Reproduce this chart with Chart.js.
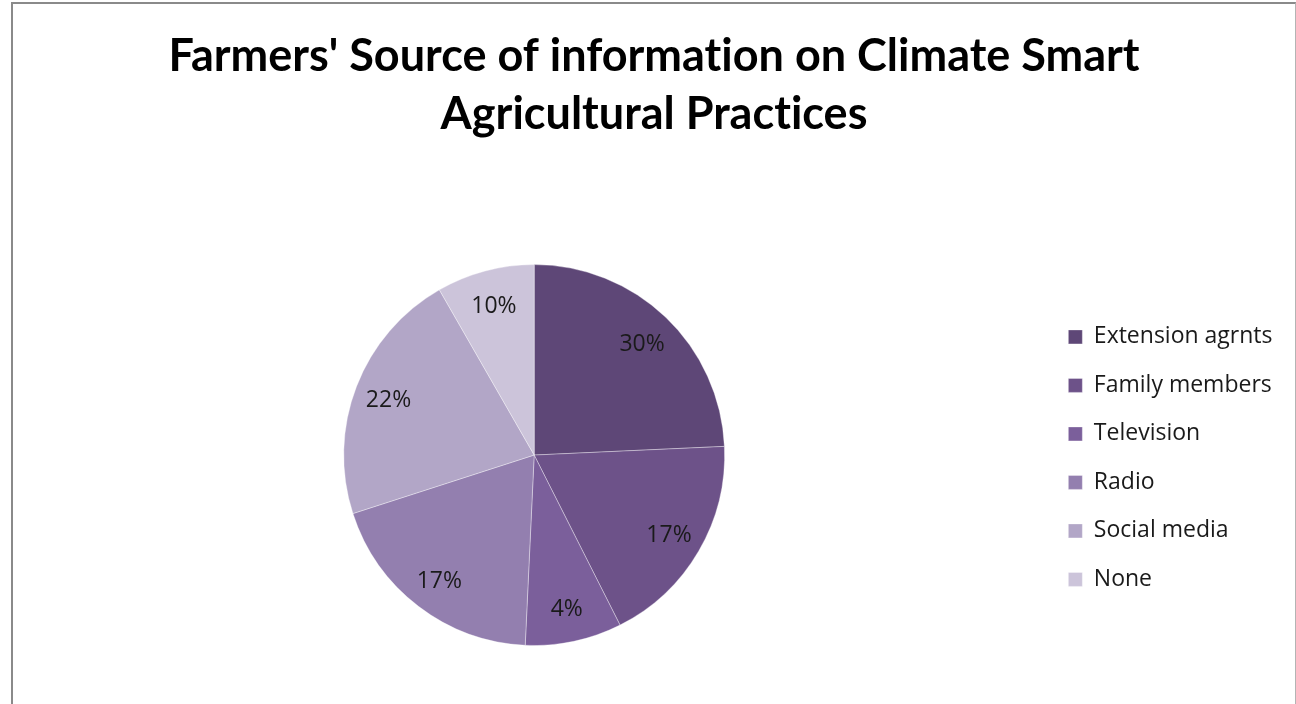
<!DOCTYPE html>
<html>
<head>
<meta charset="utf-8">
<title>Farmers' Source of information</title>
<script src="https://cdn.jsdelivr.net/npm/chart.js"></script>
<style>
    html, body { margin: 0; padding: 0; background: #fff; overflow: hidden; }
    #wrap { position: relative; width: 1296px; height: 704px; }
    #frame {
        position: absolute; left: 11px; top: 2px; width: 1282px; height: 720px;
        border-top: 2px solid #8a8a8a; border-left: 2px solid #8a8a8a; border-right: 1px solid #b4b4b4;
    }
    #chart { position: absolute; left: 0; top: 0; }
</style>
</head>
<body>
<div id="wrap">
    <div id="frame"></div>
    <canvas id="chart" width="1296" height="704"></canvas>
</div>
<script>
const titleLines = ["Farmers' Source of information on Climate Smart", "Agricultural Practices"];
const sources = ['Extension agrnts', 'Family members', 'Television', 'Radio', 'Social media', 'None'];
const sliceShares = [24.3, 18.3, 8.2, 19.3, 21.7, 8.3];
const shareLabels = ['30%', '17%', '4%', '17%', '22%', '10%'];
const sliceColors = ['#5e4777', '#6d5289', '#7b5f9b', '#937faf', '#b2a6c7', '#ccc4da'];

const FONT = "'Open Sans', 'DejaVu Sans', sans-serif";

// Lato's "ti" ligature looks wrong here, so switch ligatures off for all text
const noLigatures = {
    id: 'noLigatures',
    beforeUpdate(chart) { chart.ctx.textRendering = 'optimizeSpeed'; },
    beforeDraw(chart) { chart.ctx.textRendering = 'optimizeSpeed'; }
};

const sliceLabels = {
    id: 'sliceLabels',
    afterDatasetsDraw(chart) {
        const {ctx} = chart;
        const meta = chart.getDatasetMeta(0);
        ctx.save();
        ctx.font = `23px ${FONT}`;
        ctx.fillStyle = '#1a1a1a';
        ctx.textAlign = 'center';
        ctx.textBaseline = 'middle';
        meta.data.forEach((arc, i) => {
            const {x, y, startAngle, endAngle, outerRadius} = arc.getProps(['x', 'y', 'startAngle', 'endAngle', 'outerRadius'], true);
            const mid = (startAngle + endAngle) / 2;
            const r = outerRadius * 0.82;
            ctx.fillText(shareLabels[i], x + Math.cos(mid) * r, y + Math.sin(mid) * r + 2);
        });
        ctx.restore();
    }
};

new Chart(document.getElementById('chart'), {
    type: 'pie',
    data: {
        labels: sources,
        datasets: [{
            data: sliceShares,
            backgroundColor: sliceColors,
            borderColor: 'rgba(255,255,255,0.35)',
            borderWidth: 1,
            hoverOffset: 0
        }]
    },
    options: {
        responsive: false,
        animation: false,
        devicePixelRatio: 1,
        layout: { padding: { left: 25.5, right: 13.5, top: 0, bottom: 58 } },
        plugins: {
            title: {
                display: true,
                text: titleLines,
                color: '#000',
                font: { family: "Lato, 'Open Sans', sans-serif", size: 45, weight: 'bold', lineHeight: 1.29 },
                padding: { top: 27, bottom: 121 }
            },
            legend: {
                position: 'right',
                fullSize: false,
                // empty title only nudges the items down a few px
                title: { display: true, text: '', font: { size: 1 }, padding: { top: 5, bottom: 0 } },
                labels: {
                    boxWidth: 14,
                    boxHeight: 14,
                    padding: 25.5,
                    color: '#1a1a1a',
                    font: { family: FONT, size: 23 }
                }
            },
            tooltip: { enabled: false }
        }
    },
    plugins: [noLigatures, sliceLabels]
});
</script>
</body>
</html>
